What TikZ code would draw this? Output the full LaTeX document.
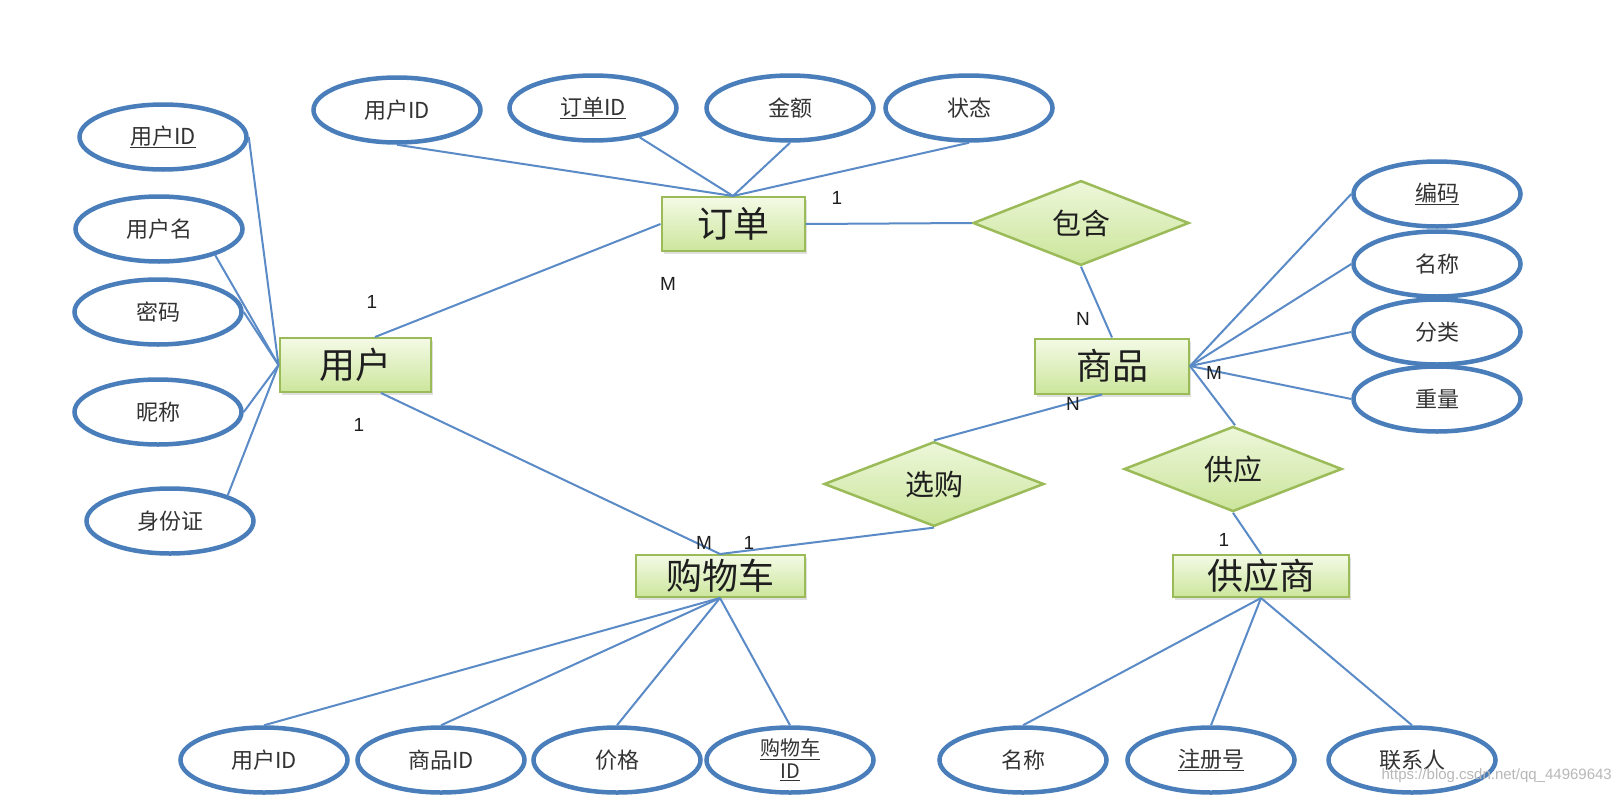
\documentclass[tikz,border=0pt]{standalone}
\usepackage{fontspec}
\newfontfamily\cjk{Noto Sans CJK SC}
\newfontfamily\latinsans{Liberation Sans}
\usetikzlibrary{shapes.geometric,shadows}
\definecolor{ellblue}{HTML}{4A7EBB}
\definecolor{lineblue}{HTML}{5B8BC7}
\definecolor{entborder}{HTML}{9BBB59}
\definecolor{entTop}{HTML}{F4FAE6}
\definecolor{entBot}{HTML}{CCE69C}
\definecolor{relTop}{HTML}{EDF7DA}
\definecolor{relBot}{HTML}{CBE59B}
\definecolor{txtdark}{HTML}{1E1E1E}
\definecolor{txtattr}{HTML}{333333}
\newcommand\attrfont{\cjk\fontsize{22}{27}\selectfont}
\newcommand\entfont{\cjk\fontsize{36}{39}\selectfont}
\newcommand\relfont{\cjk\fontsize{29}{32}\selectfont}
\newcommand\cardfont{\latinsans\fontsize{19}{21}\selectfont}
\begin{document}
\begin{tikzpicture}[x=1pt,y=-1pt,
  attr/.style={ellipse, draw=ellblue, line width=4.5pt, fill=white,
    minimum width=167pt, minimum height=65pt, inner sep=0pt, font=\attrfont, text=txtattr},
  ent/.style={rectangle, draw=entborder, line width=2pt, top color=entTop, bottom color=entBot,
    inner sep=0pt, font=\entfont, text=txtdark,
    drop shadow={shadow xshift=2pt, shadow yshift=-3pt, opacity=0.25}},
  rel/.style={diamond, draw=entborder, line width=2.5pt, top color=relTop, bottom color=relBot,
    inner sep=0pt, font=\relfont, text=txtdark},
  conn/.style={draw=lineblue, line width=2pt},
  card/.style={font=\cardfont, inner sep=0pt, text=txtdark}]
\useasboundingbox[fill=white] (0,0) rectangle (1616,795);

% user attributes
\node[attr] (uid1) at (163,137) {\underline{用户ID}};
\node[attr] (uname) at (159,229) {用户名};
\node[attr] (pwd) at (158,312) {密码};
\node[attr] (nick) at (158,412) {昵称};
\node[attr] (idc) at (170,521) {身份证};

% order attributes
\node[attr] (ouid) at (397,110) {用户ID};
\node[attr] (oid) at (593,108) {\underline{订单ID}};
\node[attr] (amt) at (790,108) {金额};
\node[attr] (stat) at (969,108) {状态};

% goods attributes
\node[attr] (code) at (1437,194) {\underline{编码}};
\node[attr] (gname) at (1437,264) {名称};
\node[attr] (cat) at (1437,332) {分类};
\node[attr] (wt) at (1437,399) {重量};

% cart attributes
\node[attr] (cuid) at (264,760) {用户ID};
\node[attr] (cgid) at (441,760) {商品ID};
\node[attr] (price) at (617,760) {价格};
\node[attr, align=center, font=\cjk\fontsize{20}{24}\selectfont] (cid) at (790,760) {\underline{购物车}\\[-1pt]\underline{ID}};

% supplier attributes
\node[attr] (sname) at (1023,760) {名称};
\node[attr] (reg) at (1211,760) {\underline{注册号}};
\node[attr] (contact) at (1412,760) {联系人};

% entities
\node[ent, minimum width=151pt, minimum height=54pt] (user) at (355,365) {用户};
\node[ent, minimum width=143pt, minimum height=54pt] (order) at (733,224) {订单};
\node[ent, minimum width=154pt, minimum height=55pt] (goods) at (1112,366) {商品};
\node[ent, minimum width=169pt, minimum height=42pt] (cart) at (720,576) {购物车};
\node[ent, minimum width=176pt, minimum height=42pt] (supplier) at (1261,576) {供应商};

% relationships
\node[rel, minimum width=216pt, minimum height=57pt] (contain) at (1081,223) {包含};
\node[rel, minimum width=220pt, minimum height=68pt] (select) at (934,484) {选购};
\node[rel, minimum width=218pt, minimum height=61pt] (supply) at (1233,469) {供应};

% connectors: user
\draw[conn] (user.west) -- (uid1.east);
\draw[conn] (user.west) -- (uname.-25);
\draw[conn] (user.west) -- (pwd.east);
\draw[conn] (user.west) -- (nick.east);
\draw[conn] (user.west) -- (idc.24);
% order
\draw[conn] (order.north) -- (ouid.south);
\draw[conn] (order.north) -- (oid);
\draw[conn] (order.north) -- (amt.south);
\draw[conn] (order.north) -- (stat.south);
% relationships
\draw[conn] ([xshift=20pt]user.north) -- (order.west);
\draw[conn] ([xshift=26pt]user.south) -- (cart.north);
\draw[conn] (order.east) -- (contain.west);
\draw[conn] (contain.south) -- (goods.north);
\draw[conn] ([xshift=-10pt]goods.south) -- (select.north);
\draw[conn] (select.south) -- (cart.north);
\draw[conn] (goods.east) -- ([xshift=2pt]supply.north);
\draw[conn] (supply.south) -- (supplier.north);
% goods attributes
\draw[conn] (goods.east) -- (code.west);
\draw[conn] (goods.east) -- (gname.west);
\draw[conn] (goods.east) -- (cat.west);
\draw[conn] (goods.east) -- (wt.west);
% cart attributes
\draw[conn] (cart.south) -- (cuid.north);
\draw[conn] (cart.south) -- (cgid.north);
\draw[conn] (cart.south) -- (price.north);
\draw[conn] (cart.south) -- (cid.north);
% supplier attributes
\draw[conn] (supplier.south) -- (sname.north);
\draw[conn] (supplier.south) -- (reg.north);
\draw[conn] (supplier.south) -- (contact.north);

% cardinalities
\node[card] (c1) at (372,302) {1};
\node[card] (c2) at (359,425) {1};
\node[card] (c3) at (668,284) {M};
\node[card] (c4) at (837,198) {1};
\node[card] (c5) at (1083,319) {N};
\node[card] (c6) at (1214,373) {M};
\node[card] (c7) at (1073,404) {N};
\node[card] (c8) at (1224,540) {1};
\node[card] (c9) at (704,543) {M};
\node[card] (c10) at (749,543) {1};

% watermark
\node[font=\latinsans\fontsize{15}{17}\selectfont, text=black!28, inner sep=0pt, anchor=east] (wm) at (1612,776) {https://blog.csdn.net/qq\_44969643};
\end{tikzpicture}
\end{document}
